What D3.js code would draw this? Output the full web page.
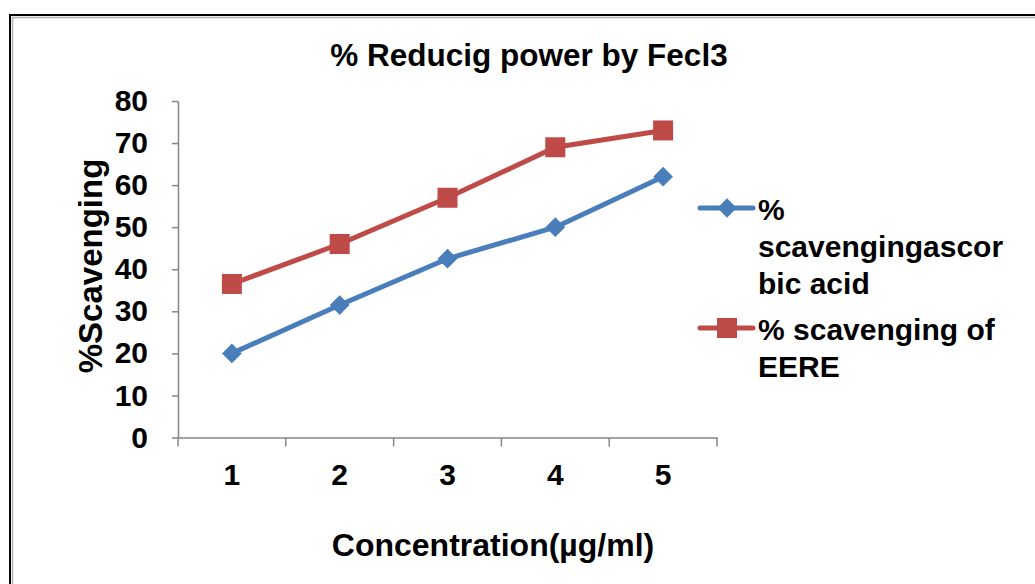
<!DOCTYPE html>
<html>
<head>
<meta charset="utf-8">
<script src="https://cdn.jsdelivr.net/npm/d3@7"></script>
<style>
  body { margin: 0; background: #fff; }
  text { font-family: Arial, "Liberation Sans", sans-serif; font-weight: bold; fill: #000; }
</style>
</head>
<body>
<div id="chart"></div>
<script>
// data
var categories = ["1", "2", "3", "4", "5"];
var ascorbic = [20, 31.5, 42.5, 50, 62];
var eere = [36.5, 46, 57, 69, 73];
var yTicks = [0, 10, 20, 30, 40, 50, 60, 70, 80];

var W = 1035, H = 584;
var margin = {left: 178, right: 318, top: 101, bottom: 146.5};
var width = W - margin.left - margin.right,
    height = H - margin.top - margin.bottom;
var font = "Arial, 'Liberation Sans', sans-serif";

var svg = d3.select("#chart").append("svg")
    .attr("width", W)
    .attr("height", H);

// frame (double line)
svg.append("rect")
    .attr("x", 10).attr("y", 15)
    .attr("width", 1100).attr("height", 700)
    .attr("fill", "none").attr("stroke", "#000").attr("stroke-width", 2);
svg.append("rect")
    .attr("x", 12.5).attr("y", 17.5)
    .attr("width", 1100).attr("height", 700)
    .attr("fill", "none").attr("stroke", "#b0b0b0").attr("stroke-width", 1.5);

var g = svg.append("g")
    .attr("transform", "translate(" + margin.left + "," + margin.top + ")");

var x = d3.scaleBand().domain(categories).range([0, width]);
var y = d3.scaleLinear().domain([0, 80]).range([height, 0]);

// Y axis
var yAxis = g.append("g")
    .call(d3.axisLeft(y).tickValues(yTicks).tickSize(6).tickSizeOuter(0).tickPadding(24));
yAxis.select(".domain").attr("stroke", "#868686").attr("stroke-width", 1.5);
yAxis.selectAll(".tick line").attr("stroke", "#868686").attr("stroke-width", 1.5);
yAxis.selectAll(".tick text").style("font-size", "30px").style("font-family", font).style("font-weight", "bold").attr("fill", "#000");

// X axis
var xAxis = g.append("g")
    .attr("transform", "translate(0," + height + ")")
    .call(d3.axisBottom(x).tickSize(0).tickPadding(26));
xAxis.select(".domain").attr("stroke", "#868686").attr("stroke-width", 1.5);
xAxis.selectAll(".tick text").style("font-size", "30px").style("font-family", font).style("font-weight", "bold").attr("fill", "#000");
// category boundary ticks
var bounds = categories.map(function(d) { return x(d); }).concat([width]);
g.selectAll(".bt").data(bounds).enter().append("line")
    .attr("x1", function(d) { return d; }).attr("x2", function(d) { return d; })
    .attr("y1", height).attr("y2", height + 9)
    .attr("stroke", "#868686").attr("stroke-width", 1.5);

var cx = function(d, i) { return x(categories[i]) + x.bandwidth() / 2; };
var line = d3.line().x(function(d, i) { return cx(d, i); }).y(function(d) { return y(d); });

var blue = "#4a7ebb", red = "#be4b48";

// series lines
g.append("path").datum(ascorbic).attr("d", line)
    .attr("fill", "none").attr("stroke", blue).attr("stroke-width", 5).attr("stroke-linejoin", "round");
g.append("path").datum(eere).attr("d", line)
    .attr("fill", "none").attr("stroke", red).attr("stroke-width", 5).attr("stroke-linejoin", "round");

// markers
g.selectAll(".dia").data(ascorbic).enter().append("path")
    .attr("d", d3.symbol().type(d3.symbolSquare).size(195))
    .attr("transform", function(d, i) { return "translate(" + cx(d, i) + "," + y(d) + ") rotate(45)"; })
    .attr("fill", blue);
g.selectAll(".sq").data(eere).enter().append("rect")
    .attr("x", function(d, i) { return cx(d, i) - 10; })
    .attr("y", function(d) { return y(d) - 10; })
    .attr("width", 20).attr("height", 20)
    .attr("fill", red);

// Title
svg.append("text")
    .attr("x", 529).attr("y", 66)
    .attr("text-anchor", "middle")
    .style("font-size", "31.5px")
    .text("% Reducig power by Fecl3");

// Y axis label
svg.append("text")
    .attr("transform", "translate(102,266) rotate(-90)")
    .attr("text-anchor", "middle")
    .style("font-size", "33px")
    .text("%Scavenging");

// X axis label
svg.append("text")
    .attr("x", 493).attr("y", 556)
    .attr("text-anchor", "middle")
    .style("font-size", "32px")
    .text("Concentration(µg/ml)");

// Legend
var legend = svg.append("g");
var legendItems = [
  {color: blue, type: "diamond", y: 208, lines: ["%", "scavengingascor", "bic acid"]},
  {color: red, type: "square", y: 328, lines: ["% scavenging of", "EERE"]}
];
legendItems.forEach(function(it) {
  legend.append("line")
    .attr("x1", 700).attr("x2", 753)
    .attr("y1", it.y).attr("y2", it.y)
    .attr("stroke", it.color).attr("stroke-width", 5).attr("stroke-linecap", "round");
  if (it.type === "diamond") {
    legend.append("path")
      .attr("d", d3.symbol().type(d3.symbolSquare).size(190))
      .attr("transform", "translate(727," + it.y + ") rotate(45)")
      .attr("fill", it.color);
  } else {
    legend.append("rect")
      .attr("x", 717).attr("y", it.y - 10)
      .attr("width", 20).attr("height", 20)
      .attr("fill", it.color);
  }
  var t = legend.append("text")
    .attr("x", 758).attr("y", it.y + 12)
    .style("font-size", "30px");
  it.lines.forEach(function(s, j) {
    t.append("tspan").attr("x", 758).attr("dy", j === 0 ? 0 : 37).text(s);
  });
});
</script>
</body>
</html>
